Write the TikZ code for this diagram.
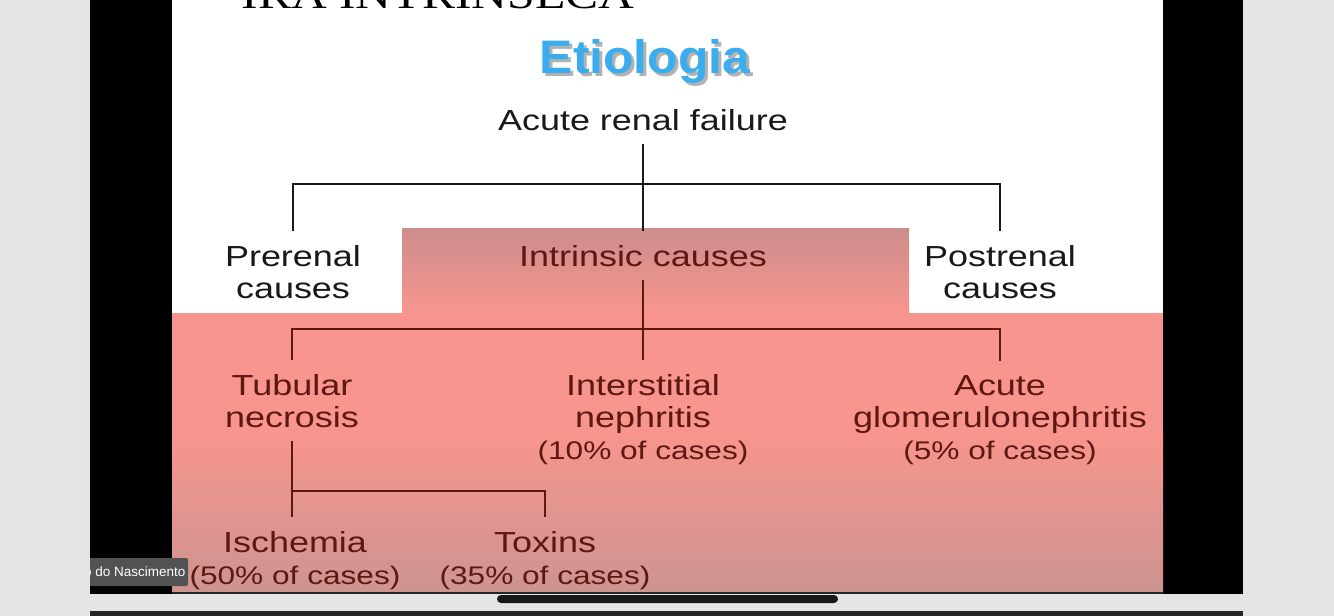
\documentclass[tikz,border=0pt]{standalone}
\usepackage{fontspec}
\setmainfont{Liberation Sans}
\newfontfamily\slidesf{Liberation Sans}[FakeStretch=1.24]
\newfontfamily\headsf{Liberation Sans}[FakeStretch=1.06]
\newfontfamily\slideserif{Liberation Serif}[FakeStretch=1.24]
\usetikzlibrary{positioning,calc}

\definecolor{deskgray}{HTML}{E5E5E5}
\definecolor{pinkmain}{HTML}{F8958E}
\definecolor{pinktop}{HTML}{CC8E8C}
\definecolor{pinkbot}{HTML}{CD9490}
\definecolor{maroon}{HTML}{5E1712}
\definecolor{skyblue}{HTML}{3BADEE}

\newcommand{\share}[1]{{\fontsize{25.5}{32}\selectfont #1}}

\begin{document}
\begin{tikzpicture}[
  x=1pt, y=-1pt,
  lbl/.style={font=\slidesf\fontsize{29}{32}\selectfont, align=center,
              inner sep=0pt, outer ysep=14pt, anchor=base},
  cold/.style={lbl, text=black!90},
  hot/.style={lbl, text=maroon},
  tree/.style={line width=2.6pt, draw=black!90},
  hottree/.style={tree, draw=maroon}
]
\useasboundingbox (0,0) rectangle (1334,616);

% screen, bands and slide
\fill[deskgray] (0,0) rectangle (1334,616);
\fill[black] (90,0) rectangle (1243,594);
\fill[white] (172,0) rectangle (1163,593);
\fill[pinkmain] (172,313) rectangle (1163,431);
\shade[top color=pinkmain, bottom color=pinkbot] (172,430) rectangle (1163,593);
\shade[top color=pinktop, bottom color=pinkmain] (402,228) rectangle (909,313.5);
\fill[black!85] (172,592) rectangle (1163,594);
\fill[black!85] (90,611) rectangle (1243,616);
\fill[black!90, rounded corners=4pt] (497,595) rectangle (838,603);

% heading, cut at the top
\begin{scope}
  \clip (172,0) rectangle (1163,100);
  \node[anchor=base, inner sep=0pt, font=\slideserif\fontsize{40}{44}\selectfont] (ira) at (438,8) {IRA INTRINSECA};
  \node[anchor=base, inner sep=0pt, text=black!30, font=\headsf\bfseries\fontsize{47}{50}\selectfont] (etioshadow) at (648,76) {Etiologia};
  \node[anchor=base, inner sep=0pt, text=skyblue, font=\headsf\bfseries\fontsize{47}{50}\selectfont] (etio) at (645,73) {Etiologia};
\end{scope}

% tree (base = last line)
\node[cold] (arf) at (643,130) {Acute renal failure};
\node[cold] (pre) at (293,298) {Prerenal\\causes};
\node[hot] (intr) at (643,266) {Intrinsic causes};
\node[cold] (post) at (1000,298) {Postrenal\\causes};
\node[hot] (tub) at (292,427) {Tubular\\necrosis};
\node[hot] (inter) at (643,459) {Interstitial\\nephritis\\\share{(10\% of cases)}};
\node[hot] (glom) at (1000,459) {Acute\\glomerulonephritis\\\share{(5\% of cases)}};
\node[hot] (isch) at (295,584) {Ischemia\\\share{(50\% of cases)}};
\node[hot] (tox) at (545,584) {Toxins\\\share{(35\% of cases)}};

\coordinate (hub1) at (643,184);
\coordinate (hub2) at (643,329);
\coordinate (hub3) at (292,491);

\draw[tree] (arf) -- (intr);
\draw[tree] (pre.north) |- (hub1) -| (post.north);
\draw[hottree] (intr) -- (inter);
\draw[hottree] (tub.north) |- (hub2) -| (glom.north);
\draw[hottree] (tub.south) -- (tub.south |- isch.north);
\draw[hottree] (hub3) -| (tox.north);

% name tag of the call
\begin{scope}
  \clip (90,550) rectangle (200,590);
  \fill[black!68, rounded corners=2pt] (84,558) rectangle (188,586);
  \node[anchor=west, inner sep=0pt, text=white, font=\fontsize{13.5}{15}\selectfont] (tag) at (84,572) {o do Nascimento};
\end{scope}
\end{tikzpicture}
\end{document}
